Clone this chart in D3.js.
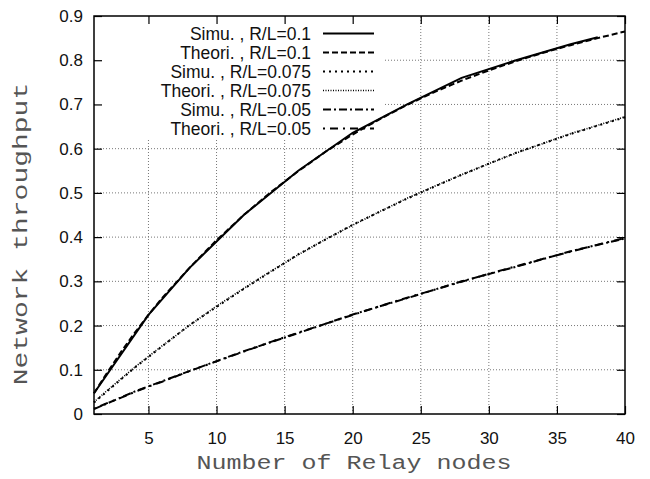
<!DOCTYPE html>
<html><head><meta charset="utf-8">
<script src="https://cdn.jsdelivr.net/npm/d3@7"></script>
<style>html,body{margin:0;padding:0;background:#fff;}svg{display:block;}</style>
</head><body>
<svg id="chart" width="650" height="479"></svg>
<script>
// ---- data ----
const xTicks = [5, 10, 15, 20, 25, 30, 35, 40];
const yTicks = [0, 0.1, 0.2, 0.3, 0.4, 0.5, 0.6, 0.7, 0.8, 0.9];
const yTickLabels = ["0", "0.1", "0.2", "0.3", "0.4", "0.5", "0.6", "0.7", "0.8", "0.9"];

const simuX = [1, 5, 8, 12, 16, 20, 24, 28, 32, 36, 38];
const simu01 = [0.047, 0.224, 0.330, 0.450, 0.550, 0.636, 0.700, 0.760, 0.800, 0.836, 0.852];
const simuX2 = [1, 4, 8, 12, 16, 20, 24, 28, 32, 36, 40];
const simu0075 = [0.026, 0.105, 0.201, 0.283, 0.361, 0.428, 0.487, 0.541, 0.591, 0.633, 0.671];
const simu005 = [0.011, 0.051, 0.097, 0.142, 0.183, 0.225, 0.262, 0.300, 0.333, 0.368, 0.397];

const theoX = [1, 2, 3, 4, 5, 6, 8, 10, 12, 14, 16, 18, 20, 22, 24, 26, 28, 30, 32, 34, 36, 38, 40];
const theo01 = [0.047, 0.095, 0.141, 0.184, 0.224, 0.262, 0.330, 0.393, 0.450, 0.502, 0.549, 0.593, 0.632, 0.667, 0.699, 0.728, 0.754, 0.777, 0.798, 0.817, 0.834, 0.850, 0.865];
const theo0075 = [0.027, 0.054, 0.080, 0.106, 0.130, 0.154, 0.200, 0.244, 0.284, 0.323, 0.360, 0.395, 0.427, 0.458, 0.488, 0.515, 0.541, 0.566, 0.590, 0.612, 0.634, 0.653, 0.672];
const theo005 = [0.012, 0.025, 0.037, 0.050, 0.062, 0.073, 0.097, 0.119, 0.141, 0.163, 0.184, 0.204, 0.224, 0.244, 0.263, 0.281, 0.299, 0.317, 0.334, 0.351, 0.367, 0.383, 0.398];

const seriesNames = ["Simu. , R/L=0.1", "Theori. , R/L=0.1", "Simu. , R/L=0.075", "Theori. , R/L=0.075", "Simu. , R/L=0.05", "Theori. , R/L=0.05"];

// ---- layout ----
const L = 94, R = 625, T = 16, B = 414;
const svg = d3.select("#chart");
const x = d3.scaleLinear().domain([1, 40]).range([L, R]);
const y = d3.scaleLinear().domain([0, 0.9]).range([B, T]);

const series = [
  {name: seriesNames[0], xs: simuX, ys: simu01, dash: null, w: 2},
  {name: seriesNames[1], xs: theoX, ys: theo01, dash: "6,3", w: 2},
  {name: seriesNames[2], xs: simuX2, ys: simu0075, dash: "2,4", w: 2},
  {name: seriesNames[3], xs: theoX, ys: theo0075, dash: "1,1.5", w: 1.6},
  {name: seriesNames[4], xs: simuX2, ys: simu005, dash: "8,3,2,3", w: 2},
  {name: seriesNames[5], xs: theoX, ys: theo005, dash: "2,5,8,5", w: 2}
];

// grid
const grid = svg.append("g");
xTicks.filter(d => d < 40).forEach(d => {
  grid.append("line").attr("x1", x(d)).attr("x2", x(d)).attr("y1", B).attr("y2", T)
    .attr("stroke", "#777").attr("stroke-width", 1).attr("stroke-dasharray", "1,2");
});
yTicks.filter(d => d > 0 && d < 0.9).forEach(d => {
  grid.append("line").attr("x1", L).attr("x2", R).attr("y1", y(d)).attr("y2", y(d))
    .attr("stroke", "#777").attr("stroke-width", 1).attr("stroke-dasharray", "1,2");
});
// opaque legend box
svg.append("rect").attr("x", L + 1).attr("y", T + 1).attr("width", 290).attr("height", 123).attr("fill", "#fff");

// axes via d3 axis
const xAxis = svg.append("g").attr("transform", `translate(0,${B})`)
  .call(d3.axisBottom(x).tickValues(xTicks).tickSize(-8).tickPadding(18).tickFormat(d3.format("d")));
const xAxisTop = svg.append("g").attr("transform", `translate(0,${T})`)
  .call(d3.axisTop(x).tickValues(xTicks).tickSize(-8).tickFormat(""));
const yAxis = svg.append("g").attr("transform", `translate(${L},0)`)
  .call(d3.axisLeft(y).tickValues(yTicks).tickSize(-8).tickPadding(11).tickFormat((d, i) => yTickLabels[i]));
const yAxisR = svg.append("g").attr("transform", `translate(${R},0)`)
  .call(d3.axisRight(y).tickValues(yTicks).tickSize(-8).tickFormat(""));
[xAxis, xAxisTop, yAxis, yAxisR].forEach(g => {
  g.select(".domain").remove();
  g.selectAll(".tick line").attr("stroke", "#000").attr("stroke-width", 1.2);
  g.selectAll("text").attr("font-family", "Liberation Sans, Arial, sans-serif").attr("font-size", 17).attr("fill", "#111");
});
svg.append("rect").attr("x", L).attr("y", T).attr("width", R - L).attr("height", B - T)
  .attr("fill", "none").attr("stroke", "#000").attr("stroke-width", 1.5);

// lines
const line = d3.line().x(d => x(d[0])).y(d => y(d[1]));
series.forEach(s => {
  svg.append("path").datum(s.xs.map((v, i) => [v, s.ys[i]]))
    .attr("d", line).attr("fill", "none").attr("stroke", "#000")
    .attr("stroke-width", s.w).attr("stroke-dasharray", s.dash);
});

// legend
const leg = svg.append("g");
series.forEach((s, i) => {
  const ly = 33.5 + i * 19;
  leg.append("text").attr("x", 311).attr("y", ly + 6).attr("text-anchor", "end")
    .attr("font-family", "Liberation Sans, Arial, sans-serif").attr("font-size", 17.5).attr("fill", "#111")
    .text(s.name);
  leg.append("line").attr("x1", 323).attr("x2", 374).attr("y1", ly).attr("y2", ly)
    .attr("stroke", "#000").attr("stroke-width", s.w).attr("stroke-dasharray", s.dash);
});

// axis titles (stretched monospace, like the original)
svg.append("text").attr("transform", "translate(354,469) scale(1.25,1)").attr("text-anchor", "middle")
  .attr("font-family", "Liberation Mono, Courier New, monospace").attr("font-size", 20).attr("fill", "#555")
  .text("Number of Relay nodes");
svg.append("text").attr("transform", "translate(27,234) rotate(-90) scale(1.4,1)").attr("text-anchor", "middle")
  .attr("font-family", "Liberation Mono, Courier New, monospace").attr("font-size", 20).attr("fill", "#555")
  .text("Network throughput");
</script>
</body></html>
